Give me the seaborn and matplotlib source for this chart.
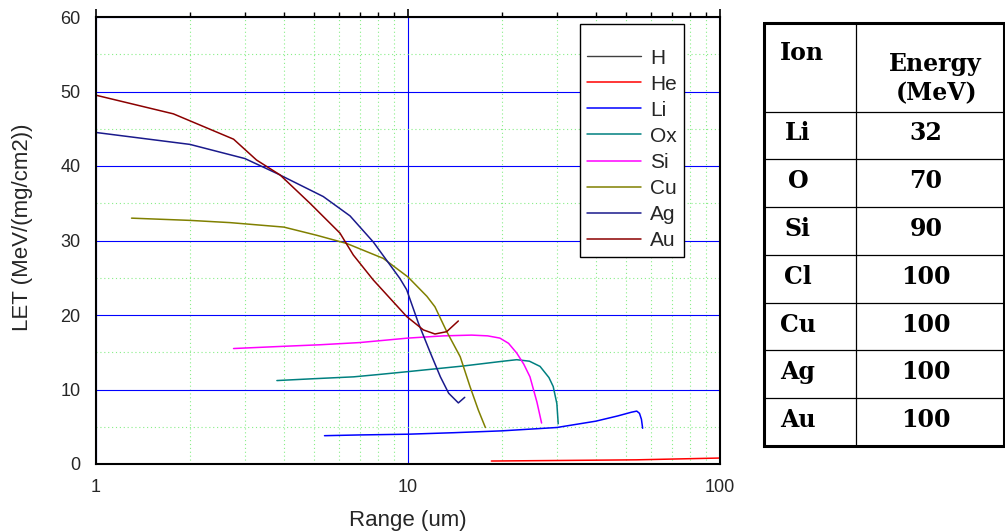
import matplotlib
matplotlib.use("Agg")
import matplotlib.pyplot as plt
import matplotlib.ticker as mticker
import seaborn as sns

# LET curves: range (um) and LET (MeV/(mg/cm2))
h_range = []
h_let = []

he_range = [18.5, 30, 54, 100]
he_let = [0.4, 0.47, 0.56, 0.8]

li_range = [5.4, 7, 10, 14, 20, 30, 40, 47, 52, 54.1, 55.2, 56, 56.5]
li_let = [3.8, 3.9, 4.0, 4.2, 4.45, 4.9, 5.75, 6.45, 6.95, 7.1, 6.8, 6.0, 4.8]

ox_range = [3.8, 5, 6.7, 8, 10, 15, 20.2, 22.3, 24.5, 26.5, 28.3, 29.2, 30.0, 30.3]
ox_let = [11.2, 11.45, 11.7, 12.0, 12.4, 13.15, 13.8, 14.0, 13.8, 13.1, 11.6, 10.4, 8.1, 5.4]

si_range = [2.76, 4, 5.2, 7, 10, 13, 16, 18, 19.7, 21, 22.3, 23.5, 24.6, 25.9, 26.8]
si_let = [15.5, 15.8, 16.0, 16.3, 16.9, 17.2, 17.3, 17.2, 16.9, 16.2, 14.9, 13.4, 11.7, 8.3, 5.5]

cu_range = [1.3, 2.0, 2.69, 4.0, 5.1, 6.36, 8.33, 10.0, 11.5, 12.2, 13.3, 14.7, 15.8, 16.8, 17.7]
cu_let = [33.0, 32.7, 32.4, 31.8, 30.7, 29.6, 27.6, 25.1, 22.5, 21.1, 17.8, 14.4, 10.4, 7.25, 4.9]

ag_range = [1.0, 2.0, 3.0, 3.8, 5.35, 6.52, 7.74, 9.42, 9.9, 10.8, 11.8, 12.7, 13.5, 14.5, 15.2]
ag_let = [44.5, 42.9, 41.0, 39.0, 35.9, 33.3, 29.8, 24.9, 23.4, 18.9, 14.9, 11.7, 9.5, 8.2, 8.95]

au_range = [1.0, 1.77, 2.76, 3.27, 3.89, 4.85, 6.05, 6.68, 7.74, 9.9, 11.2, 12.2, 13.3, 14.5]
au_let = [49.5, 47.0, 43.6, 40.8, 38.8, 35.0, 31.0, 28.05, 24.7, 19.8, 18.0, 17.45, 17.76, 19.2]

x_ticks = [1, 10, 100]
x_tick_labels = ["1", "10", "100"]

# ion energy table
table_ions = ["Li", "O", "Si", "Cl", "Cu", "Ag", "Au"]
table_energy = ["32", "70", "90", "100", "100", "100", "100"]

sns.set_style("white")
plt.rcParams["font.family"] = ["Liberation Sans", "DejaVu Sans"]

fig = plt.figure(figsize=(10.05, 5.31), dpi=100)
ax = fig.add_axes([96 / 1005, 67 / 531, 624 / 1005, 447 / 531])

ax.plot(h_range, h_let, color="#404040", lw=1, label="H")
series = [
    ("He", he_range, he_let, "#ff0000"),
    ("Li", li_range, li_let, "#0000ff"),
    ("Ox", ox_range, ox_let, "#008080"),
    ("Si", si_range, si_let, "#ff00ff"),
    ("Cu", cu_range, cu_let, "#808000"),
    ("Ag", ag_range, ag_let, "#1a1a8c"),
    ("Au", au_range, au_let, "#8b0000"),
]
for name, xr, yl, col in series:
    sns.lineplot(x=xr, y=yl, ax=ax, color=col, lw=1.1, label=name,
                 sort=False, estimator=None)

ax.set_xscale("log")
ax.set_xlim(1, 100)
ax.set_ylim(0, 60)
ax.set_xticks(x_ticks, x_tick_labels)
ax.xaxis.set_minor_locator(mticker.LogLocator(base=10, subs=range(2, 10)))
ax.xaxis.set_minor_formatter(mticker.NullFormatter())
ax.yaxis.set_major_locator(mticker.MultipleLocator(10))
ax.yaxis.set_minor_locator(mticker.MultipleLocator(5))

ax.set_axisbelow(True)
ax.grid(which="major", color="#0000ff", lw=0.8, ls="-")
ax.grid(which="minor", color="#88ee88", lw=0.8, ls=(0, (1, 2.5)))

for s in ax.spines.values():
    s.set_visible(True)
    s.set_color("black")
    s.set_linewidth(1.5)

ax.tick_params(which="both", direction="out", color="black", top=True,
               right=False, labelsize=13, pad=5)
ax.tick_params(which="major", length=6, width=1.2)
ax.tick_params(which="minor", length=3.5, width=1.0)

ax.set_xlabel("Range (um)", fontsize=16, labelpad=10)
ax.set_ylabel("LET (MeV/(mg/cm2))", fontsize=16)
ax.yaxis.set_label_coords(-0.101, 0.53)

handles, labels = ax.get_legend_handles_labels()
leg = ax.legend(handles, labels, loc="upper right",
                bbox_to_anchor=(0.942, 0.984), borderaxespad=0,
                fontsize=15, frameon=True, fancybox=False, framealpha=1,
                edgecolor="black", handlelength=2.6, handletextpad=0.4,
                labelspacing=0.34, borderpad=0.35,
                title=" ", title_fontsize=8)
leg.get_frame().set_linewidth(1.0)

# table drawn in figure pixel space
tax = fig.add_axes([0, 0, 1, 1])
tax.set_xlim(0, 1005)
tax.set_ylim(531, 0)
tax.axis("off")

left, right, top, bottom = 764, 1004, 23, 446
mid = 856
head_bottom = 111.5
row_h = (bottom - head_bottom) / len(table_ions)

tax.plot([left, right, right, left, left], [top, top, bottom, bottom, top],
         color="black", lw=2.2, solid_joinstyle="miter")
tax.plot([mid, mid], [top, bottom], color="black", lw=0.9)
for i in range(len(table_ions)):
    yy = head_bottom + i * row_h
    tax.plot([left, right], [yy, yy], color="black", lw=0.9)

tfont = dict(family="DejaVu Serif", fontweight="bold", fontsize=17,
             ha="center", va="baseline", color="black")
tax.text(802, 60, "Ion", **tfont)
tax.text(935, 71, "Energy", **tfont)
tax.text(937, 100, "(MeV)", **tfont)
for i, (ion, en) in enumerate(zip(table_ions, table_energy)):
    yb = head_bottom + i * row_h + 29
    tax.text(798, yb, ion, **tfont)
    tax.text(926, yb, en, **tfont)

fig.savefig("out.png", dpi=100)
